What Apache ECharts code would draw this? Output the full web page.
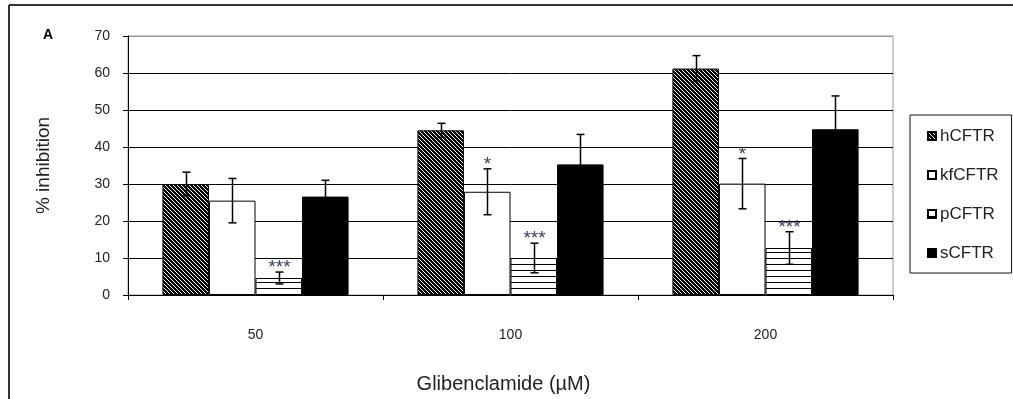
<!DOCTYPE html>
<html><head><meta charset="utf-8">
<script src="https://cdn.jsdelivr.net/npm/echarts@6/dist/echarts.min.js"></script>
<style>html,body{margin:0;padding:0;background:#fff}#c{width:1013px;height:399px}</style>
</head><body><div id="c"></div>
<script>
// ---- data ----
const categories = ['50', '100', '200'];
const seriesNames = ['hCFTR', 'kfCFTR', 'pCFTR', 'sCFTR'];
const hCFTR = [30.0, 44.5, 61.2];
const hCFTRErr = [3.2, 1.9, 3.5];
const kfCFTR = [25.5, 27.9, 30.1];
const kfCFTRErr = [6.0, 6.2, 6.8];
const pCFTR = [4.6, 10.0, 12.7];
const pCFTRErr = [1.6, 4.0, 4.4];
const sCFTR = [26.6, 35.3, 44.8];
const sCFTRErr = [4.4, 8.1, 9.0];
const hCFTRStars = ['', '', ''];
const kfCFTRStars = ['', '*', '*'];
const pCFTRStars = ['***', '***', '***'];
const sCFTRStars = ['', '', ''];
const yMin = 0, yMax = 70, yStep = 10;
const xTitle = 'Glibenclamide (µM)';
const yTitle = '% inhibition';
const panelLabel = 'A';

// ---- patterns ----
function hatchCanvas() {
  const c = document.createElement('canvas'); c.width = 4; c.height = 4;
  const g = c.getContext('2d');
  g.fillStyle = '#000'; g.fillRect(0, 0, 4, 4);
  g.fillStyle = '#fff';
  for (let i = 0; i < 4; i++) g.fillRect(i, i, 1, 1);
  return c;
}
function horizCanvas() {
  const c = document.createElement('canvas'); c.width = 4; c.height = 6;
  const g = c.getContext('2d');
  g.fillStyle = '#fff'; g.fillRect(0, 0, 4, 6);
  g.fillStyle = '#000'; g.fillRect(0, 0, 4, 1);
  return c;
}
const fills = [
  { image: hatchCanvas(), repeat: 'repeat' },
  '#ffffff',
  { image: horizCanvas(), repeat: 'repeat' },
  '#000000'
];
const GAP = 0.27;
const FONT = 'Liberation Sans, Arial, sans-serif';

function barSeries(idx, vals) {
  return {
    type: 'bar', name: seriesNames[idx], data: vals,
    barGap: '0%', barCategoryGap: (GAP * 100) + '%',
    itemStyle: { color: fills[idx], borderColor: '#000', borderWidth: 1 },
    emphasis: { disabled: true }, z: 2
  };
}
function errSeries(idx, vals, errs, stars) {
  return {
    type: 'custom', name: seriesNames[idx] + ' error', silent: true, z: 5,
    data: vals.map((v, i) => [i, v, errs[i]]),
    encode: { x: 0, y: 1 },
    renderItem: function (params, api) {
      const ci = api.value(0), v = api.value(1), e = api.value(2);
      const band = api.size([1, 0])[0];
      const bw = band * (1 - GAP) / 4;
      const c = api.coord([ci, v]);
      const x = Math.round(c[0] + (idx - 1.5) * bw) + 0.5;
      const top = api.coord([ci, v + e])[1];
      const bot = api.coord([ci, v - e])[1];
      const st = { stroke: '#000', lineWidth: 1.5 };
      const kids = [
        { type: 'line', shape: { x1: x, y1: top, x2: x, y2: bot }, style: st },
        { type: 'line', shape: { x1: x - 4, y1: top, x2: x + 4, y2: top }, style: st },
        { type: 'line', shape: { x1: x - 4, y1: bot, x2: x + 4, y2: bot }, style: st }
      ];
      const s = stars[params.dataIndex];
      if (s) {
        kids.push({ type: 'text', x: x, y: top - 4,
          style: { text: s, fontSize: 19, fontFamily: FONT, fill: '#3a3a5a', align: 'center', verticalAlign: 'middle' } });
      }
      return { type: 'group', children: kids };
    }
  };
}

const chart = echarts.init(document.getElementById('c'), null, { renderer: 'canvas' });
const splitColors = [];
for (let v = yMin; v <= yMax; v += yStep) splitColors.push(v === yMax ? '#999' : '#000');

chart.setOption({
  animation: false,
  backgroundColor: '#fff',
  grid: { left: 128, top: 36, width: 765, height: 262, show: true, borderColor: '#999', borderWidth: 1, backgroundColor: 'transparent' },
  legend: {
    data: seriesNames, orient: 'vertical', left: 910, top: 115,
    itemWidth: 8, itemHeight: 8, itemGap: 21, icon: 'rect',
    padding: [12, 13, 11, 17],
    backgroundColor: '#fff', borderColor: '#111', borderWidth: 1, borderRadius: 0,
    selectedMode: false,
    textStyle: { fontFamily: FONT, fontSize: 17, color: '#222', lineHeight: 18, padding: [0, 0, 0, -1] }
  },
  xAxis: {
    type: 'category', data: categories,
    axisLine: { lineStyle: { color: '#000', width: 1 } },
    axisTick: { show: true, alignWithLabel: false, length: 5, lineStyle: { color: '#000' } },
    axisLabel: { fontFamily: FONT, fontSize: 14, color: '#222', margin: 33 },
    name: xTitle, nameLocation: 'middle', nameGap: 79,
    nameTextStyle: { fontFamily: FONT, fontSize: 20, color: '#222', padding: [0, 14, 0, 0] }
  },
  yAxis: {
    type: 'value', min: yMin, max: yMax, interval: yStep,
    axisLine: { show: true, lineStyle: { color: '#000', width: 1 } },
    axisTick: { show: true, inside: false, length: 5, lineStyle: { color: '#000' } },
    axisLabel: { fontFamily: FONT, fontSize: 14, color: '#222', margin: 18 },
    splitLine: { show: true, lineStyle: { color: splitColors, width: 1 } },
    name: yTitle, nameLocation: 'middle', nameGap: 75, nameRotate: 90,
    nameTextStyle: { fontFamily: FONT, fontSize: 19, color: '#222' }
  },
  graphic: [
    { type: 'line', shape: { x1: 9, y1: 5, x2: 1013, y2: 5 }, style: { stroke: '#333', lineWidth: 2 } },
    { type: 'line', shape: { x1: 9, y1: 5, x2: 9, y2: 399 }, style: { stroke: '#333', lineWidth: 2 } },
    { type: 'text', left: 43, top: 28, style: { text: panelLabel, fontFamily: FONT, fontSize: 14, fontWeight: 'bold', fill: '#000' } }
  ],
  series: [
    barSeries(0, hCFTR), barSeries(1, kfCFTR), barSeries(2, pCFTR), barSeries(3, sCFTR),
    errSeries(0, hCFTR, hCFTRErr, hCFTRStars),
    errSeries(1, kfCFTR, kfCFTRErr, kfCFTRStars),
    errSeries(2, pCFTR, pCFTRErr, pCFTRStars),
    errSeries(3, sCFTR, sCFTRErr, sCFTRStars)
  ]
});
</script></body></html>
